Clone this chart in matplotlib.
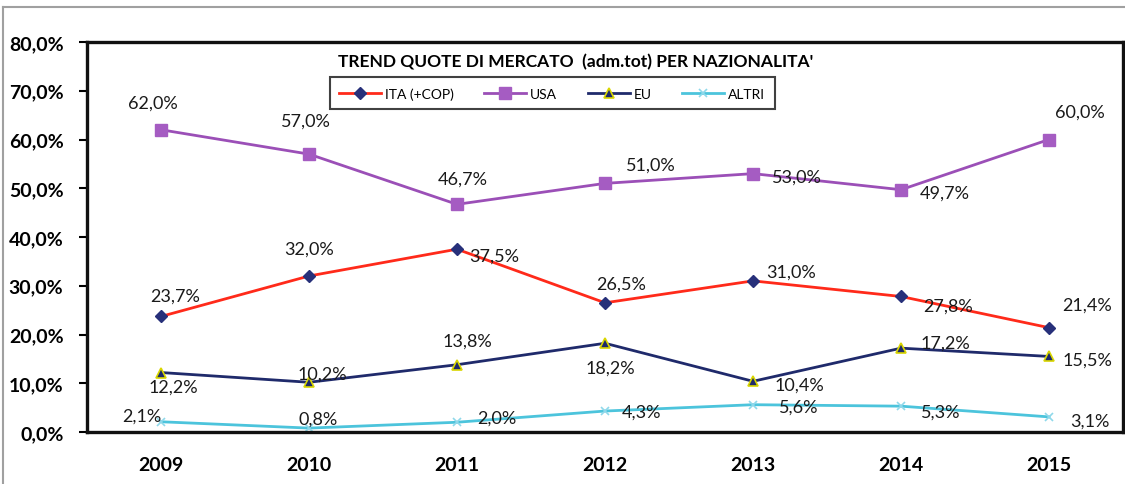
import matplotlib
matplotlib.use("Agg")
import matplotlib.pyplot as plt
from matplotlib.lines import Line2D

plt.rcParams['font.family'] = ['Lato', 'DejaVu Sans']

years = ["2009", "2010", "2011", "2012", "2013", "2014", "2015"]
ita = [23.7, 32.0, 37.5, 26.5, 31.0, 27.8, 21.4]
usa = [62.0, 57.0, 46.7, 51.0, 53.0, 49.7, 60.0]
eu = [12.2, 10.2, 13.8, 18.2, 10.4, 17.2, 15.5]
altri = [2.1, 0.8, 2.0, 4.3, 5.6, 5.3, 3.1]
series_names = ["ITA (+COP)", "USA", "EU", "ALTRI"]
title = "TREND QUOTE DI MERCATO  (adm.tot) PER NAZIONALITA'"

# label offsets in pixels (dx, dy up)
off_ita = [(14, 21), (0, 27), (37, -6), (16, 19), (38, 9), (47, -9), (38, 23)]
off_usa = [(-8, 27), (-3, 33), (6, 26), (46, 19), (44, -3), (44, -3), (31, 28)]
off_eu = [(12, -14), (13, 9), (10, 24), (5, -24), (46, -3), (44, 6), (38, -3)]
off_alt = [(-19, 6), (9, 9), (40, 5), (37, -1), (46, -2), (40, -5), (41, -4)]

fig = plt.figure(figsize=(11.25, 4.85), dpi=100)
ax = fig.add_axes([87/1125, 52/485, 1036/1125, 390/485])

x = list(range(len(years)))
styles = [
    (ita, dict(color="#ff2a1a", marker="D", markersize=6.5, markerfacecolor="#27307a",
               markeredgecolor="#27307a"), off_ita),
    (usa, dict(color="#9b4fb7", marker="s", markersize=8.5, markerfacecolor="#a55cc2",
               markeredgecolor="#a55cc2"), off_usa),
    (eu, dict(color="#1f2a6b", marker="^", markersize=7.5, markerfacecolor="#1f2a6b",
              markeredgecolor="#d9d600", markeredgewidth=1.2), off_eu),
    (altri, dict(color="#4cc4dc", marker="x", markersize=6, markeredgecolor="#8fd8ea",
                 markeredgewidth=1.2), off_alt),
]
handles = []
for (vals, st, offs), name in zip(styles, series_names):
    h, = ax.plot(x, vals, linewidth=2, label=name, **st)
    handles.append(h)
    for xi, v, (dx, dy) in zip(x, vals, offs):
        ax.annotate(f"{v:.1f}%".replace(".", ","), (xi, v),
                    xytext=(dx * 0.72, dy * 0.72), textcoords="offset points",
                    ha="center", va="center", fontsize=13, color="#1a1a1a")

ax.set_xlim(-0.5, 6.5)
ax.set_ylim(0, 80)
ax.set_yticks(range(0, 81, 10))
ax.set_yticklabels([f"{t},0%" for t in range(0, 81, 10)], fontsize=14,
                   fontweight="bold")
ax.set_xticks(x)
ax.set_xticklabels(years, fontsize=14, fontweight="bold")
ax.tick_params(axis="x", length=0, pad=17)
ax.tick_params(axis="y", length=6, width=1.5, pad=11)
for s in ax.spines.values():
    s.set_linewidth(2.4)
    s.set_color("#111111")

ax.text(0.472, 0.95, title, transform=ax.transAxes, ha="center", va="center",
        fontsize=12.5, fontweight="bold")
leg = ax.legend(handles=handles, loc="center", bbox_to_anchor=(0.449, 0.868),
                ncol=4, fontsize=10, frameon=True, fancybox=False,
                handlelength=3.0, columnspacing=2.2, borderpad=0.7,
                handletextpad=0.3, numpoints=1)
leg.get_frame().set_edgecolor("#111111")
leg.get_frame().set_linewidth(1.5)

# outer figure border (top and left)
fig.add_artist(Line2D([3/1125, 1.0], [1 - 8/485, 1 - 8/485], color="#a0a0a0",
                      linewidth=1.5, transform=fig.transFigure))
fig.add_artist(Line2D([3/1125, 3/1125], [0, 1 - 8/485], color="#a0a0a0",
                      linewidth=1.5, transform=fig.transFigure))

fig.savefig("out.png", dpi=100)
